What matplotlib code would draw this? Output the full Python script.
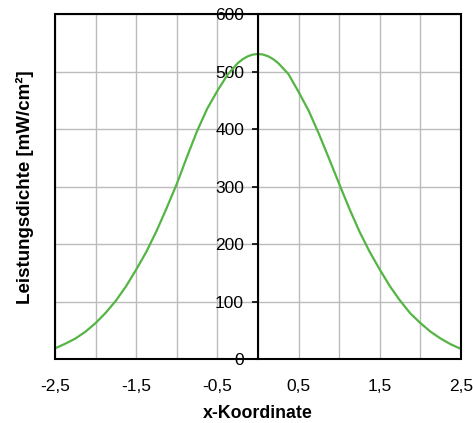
import matplotlib
matplotlib.use("Agg")
import matplotlib.pyplot as plt
from matplotlib.patches import Rectangle

plt.rcParams['font.family'] = ['Liberation Sans', 'DejaVu Sans']

# Werte
x_koord = [-2.5, -2.375, -2.25, -2.125, -2.0, -1.875, -1.75, -1.625, -1.5, -1.375,
           -1.25, -1.125, -1.0, -0.875, -0.75, -0.625, -0.5, -0.375, -0.25, -0.1875,
           -0.125, -0.0625, 0.0, 0.0625, 0.125, 0.1875, 0.25, 0.375, 0.5, 0.625,
           0.75, 0.875, 1.0, 1.125, 1.25, 1.375, 1.5, 1.625, 1.75, 1.875,
           2.0, 2.125, 2.25, 2.375, 2.5]
leistung = [19, 27, 36, 48, 63, 81, 102, 127, 156, 187,
            223, 263, 305, 352, 397, 436, 467, 495, 515, 522,
            527, 530, 531, 530, 527, 522, 515, 496, 465, 432,
            392, 349, 305, 262, 222, 187, 156, 127, 102, 80,
            63, 48, 36, 26, 18]

xtick_vals = [-2.5, -1.5, -0.5, 0.5, 1.5, 2.5]
xtick_labels = ['-2,5', '-1,5', '-0,5', '0,5', '1,5', '2,5']
xgrid_minor = [-2.0, -1.0, 0.0, 1.0, 2.0]
ytick_vals = [0, 100, 200, 300, 400, 500, 600]
ytick_labels = ['0', '100', '200', '300', '400', '500', '600']

fig = plt.figure(figsize=(4.73, 4.23), dpi=100)
ax = fig.add_axes([55 / 473, 1 - 359.3 / 423, 406 / 473, 345 / 423])

ax.plot(x_koord, leistung, color='#55b544', lw=1.6, zorder=3)

ax.set_xlim(-2.5, 2.5)
ax.set_ylim(0, 600)

ax.set_xticks(xtick_vals, labels=xtick_labels)
ax.set_xticks(xgrid_minor, minor=True)
ax.set_yticks(ytick_vals, labels=ytick_labels)
ax.grid(which='both', axis='x', color='#bcbcbc', lw=1.0, zorder=0)
ax.grid(which='major', axis='y', color='#bcbcbc', lw=1.0, zorder=0)
ax.set_axisbelow(True)

# y-Achse bei x = 0, Rahmen aussen herum
ax.spines['left'].set_position(('data', 0))
ax.spines['left'].set_linewidth(1.5)
ax.spines['left'].set_zorder(4)
for s in ['top', 'right', 'bottom']:
    ax.spines[s].set_visible(False)
ax.add_patch(Rectangle((0, 0), 1, 1, transform=ax.transAxes, fill=False,
                       edgecolor='black', lw=1.5, zorder=4, clip_on=False))

ax.tick_params(axis='y', direction='out', length=4, width=1.2, pad=6, labelsize=12.5)
ax.tick_params(axis='x', which='both', length=0, pad=14, labelsize=12.5)

ax.set_xlabel('x-Koordinate', fontsize=12.8, fontweight='bold')
ax.xaxis.set_label_coords(0.5, -0.133)
ax.set_ylabel('Leistungsdichte [mW/cm²]', fontsize=13.5, fontweight='bold', va='center')
ax.yaxis.set_label_coords(-0.074, 0.5)

fig.savefig('out.png', dpi=100)
